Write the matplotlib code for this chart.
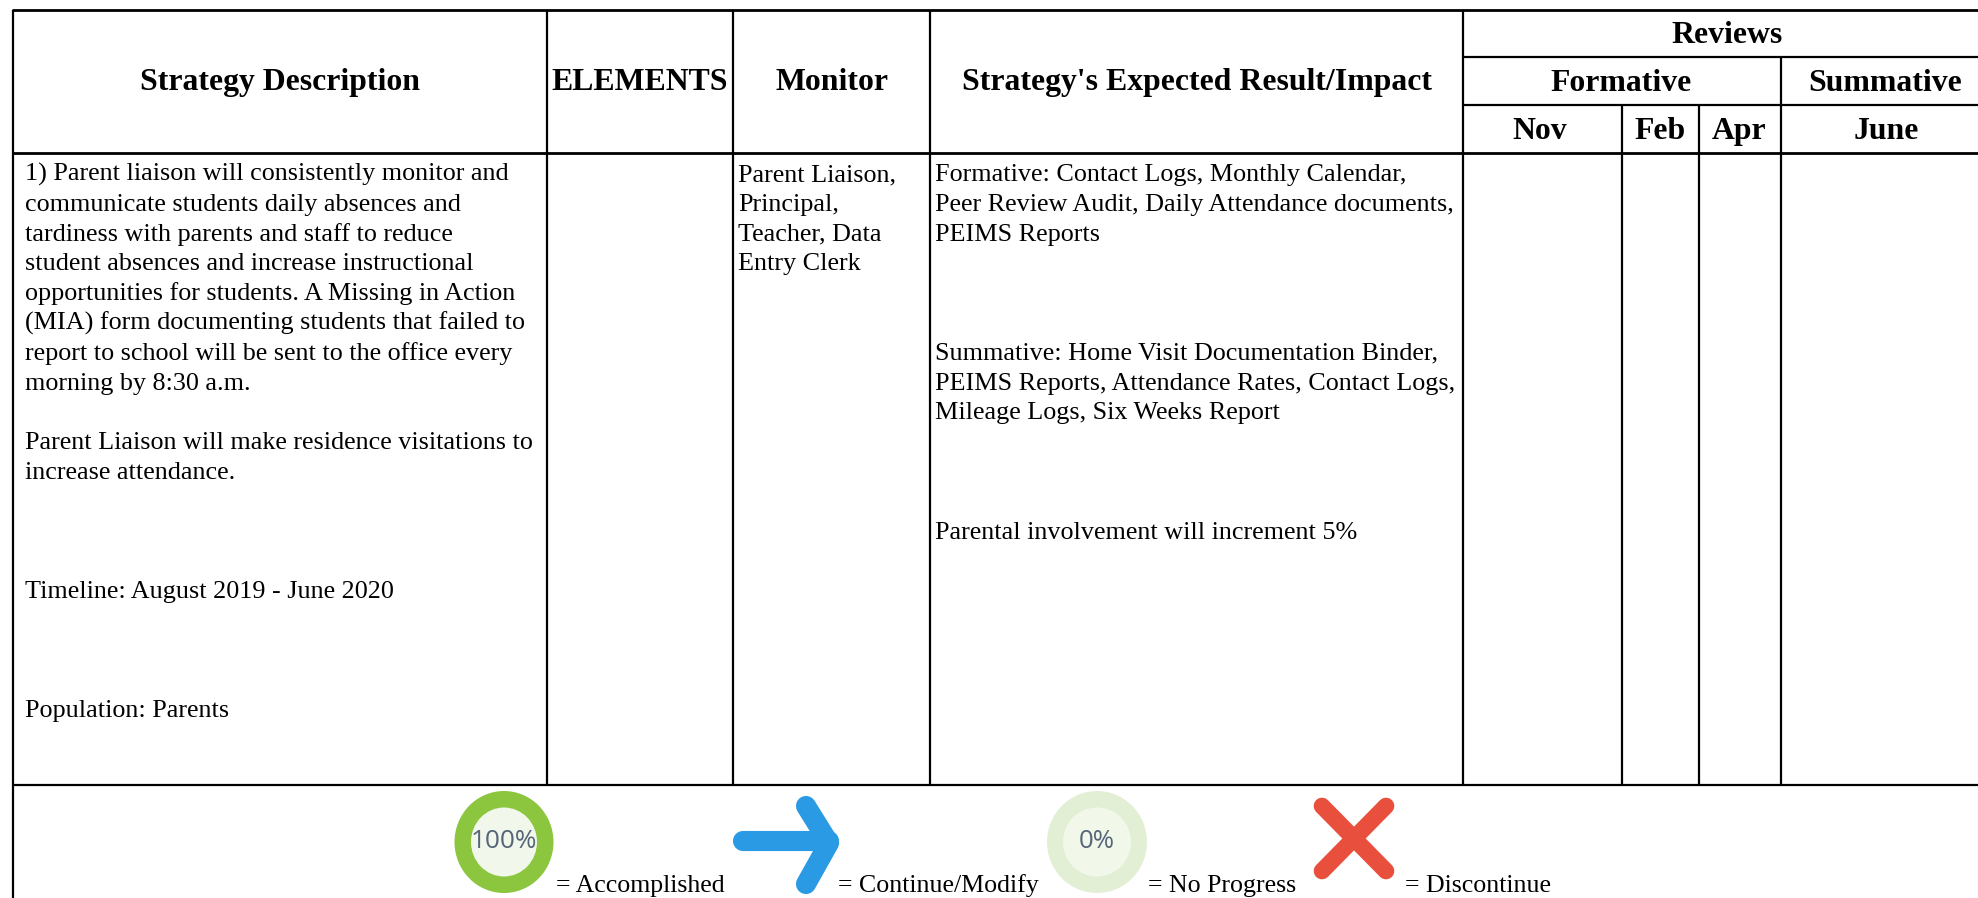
import matplotlib
matplotlib.use("Agg")
import matplotlib.pyplot as plt
from matplotlib.patches import Ellipse

# table text
col_heads = ["Strategy Description", "ELEMENTS", "Monitor", "Strategy's Expected Result/Impact"]
review_head = "Reviews"
review_groups = ["Formative", "Summative"]
review_months = ["Nov", "Feb", "Apr", "June"]

strategy_lines = [
    "1) Parent liaison will consistently monitor and",
    "communicate students daily absences and",
    "tardiness with parents and staff to reduce",
    "student absences and increase instructional",
    "opportunities for students. A Missing in Action",
    "(MIA) form documenting students that failed to",
    "report to school will be sent to the office every",
    "morning by 8:30 a.m.",
    "",
    "Parent Liaison will make residence visitations to",
    "increase attendance.",
    "", "", "",
    "Timeline: August 2019 - June 2020",
    "", "", "",
    "Population: Parents",
]
monitor_lines = ["Parent Liaison,", "Principal,", "Teacher, Data", "Entry Clerk"]
impact_lines = [
    "Formative: Contact Logs, Monthly Calendar,",
    "Peer Review Audit, Daily Attendance documents,",
    "PEIMS Reports",
    "", "", "",
    "Summative: Home Visit Documentation Binder,",
    "PEIMS Reports, Attendance Rates, Contact Logs,",
    "Mileage Logs, Six Weeks Report",
    "", "", "",
    "Parental involvement will increment 5%",
]
legend_labels = ["= Accomplished", "= Continue/Modify", "= No Progress", "= Discontinue"]

fig = plt.figure(figsize=(19.78, 8.98), dpi=100)
ax = fig.add_axes([0, 0, 1, 1])
ax.set_xlim(0, 1978)
ax.set_ylim(898, 0)
ax.axis("off")

serif = "Liberation Serif"
LW = 1.6


def hline(x0, x1, y, lw=LW):
    ax.plot([x0, x1], [y, y], color="black", lw=lw, solid_capstyle="butt")


def vline(x, y0, y1):
    ax.plot([x, x], [y0, y1], color="black", lw=LW, solid_capstyle="butt")


# grid
hline(12, 1978, 10, lw=2.0)
hline(1463, 1978, 57)
hline(1463, 1978, 105)
hline(12, 1978, 153, lw=2.0)
hline(13, 1978, 785)
vline(13, 10, 898)
for x in [547, 733, 930, 1463]:
    vline(x, 10, 785)
vline(1781, 57, 785)
vline(1622, 105, 785)
vline(1699, 105, 785)

# headers
head_kw = dict(family=serif, weight="bold", fontsize=22.9, ha="center", va="baseline")
for label, x in zip(col_heads, [280, 640, 832, 1197]):
    ax.text(x, 90, label, **head_kw)
ax.text(1727, 43, review_head, **head_kw)
for label, x in zip(review_groups, [1621, 1885]):
    ax.text(x, 91, label, **head_kw)
for label, x in zip(review_months, [1540, 1660, 1739, 1886]):
    ax.text(x, 139, label, **head_kw)

# body
for x, lines in [(25, strategy_lines), (738, monitor_lines), (935, impact_lines)]:
    for i, line in enumerate(lines):
        if line:
            ax.text(x, 181 + i * 29.8, line, family=serif, fontsize=18.85, va="baseline")

# legend icons
ax.add_patch(Ellipse((504, 842), 99, 102, color="#8cc63f", lw=0))
ax.add_patch(Ellipse((504, 842), 66, 69, color="#f1f7ea", lw=0))
ax.text(504, 841, "100%", family="Open Sans", fontsize=18.8, color="#566578", ha="center", va="center")

arrow_kw = dict(color="#2b9ae4", lw=14.5, solid_capstyle="round", solid_joinstyle="round")
ax.plot([743, 829], [841, 841], **arrow_kw)
ax.plot([806, 829, 806], [806, 843, 884], **arrow_kw)

ax.add_patch(Ellipse((1097, 842), 100, 102, color="#e2efd5", lw=0))
ax.add_patch(Ellipse((1097, 842), 68, 69, color="#f1f8ea", lw=0))
ax.text(1097, 841, "0%", family="Open Sans", fontsize=18.5, color="#566578", ha="center", va="center")

cross_kw = dict(color="#e94f3d", lw=12, solid_capstyle="round")
ax.plot([1322, 1386], [806, 871], **cross_kw)
ax.plot([1386, 1322], [806, 871], **cross_kw)

for label, x in zip(legend_labels, [556, 838, 1148, 1405]):
    ax.text(x, 892, label, family=serif, fontsize=18.6, va="baseline")

fig.savefig("out.png", dpi=100)
